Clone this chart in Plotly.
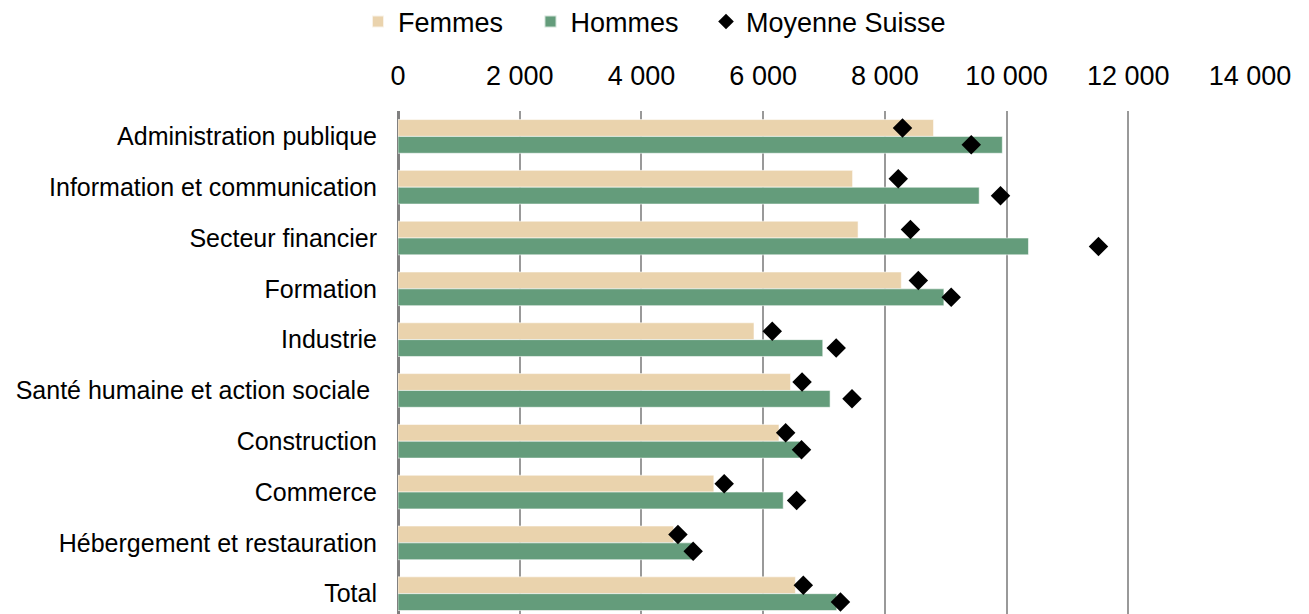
import plotly.graph_objects as go

categories = [
    "Administration publique",
    "Information et communication",
    "Secteur financier",
    "Formation",
    "Industrie",
    "Santé humaine et action sociale\u00a0",
    "Construction",
    "Commerce",
    "Hébergement et restauration",
    "Total",
]
femmes = [8800, 7470, 7560, 8270, 5850, 6450, 6260, 5190, 4530, 6530]
hommes = [9930, 9550, 10360, 8970, 6980, 7100, 6600, 6330, 4830, 7210]
moyenne_femmes = [8290, 8220, 8420, 8550, 6150, 6640, 6370, 5360, 4600, 6660]
moyenne_hommes = [9420, 9900, 11510, 9090, 7200, 7460, 6630, 6550, 4850, 7270]
x_ticks = [0, 2000, 4000, 6000, 8000, 10000, 12000, 14000]

FONT = "Liberation Sans, Arial, sans-serif"
C_F = "#EAD3AD"
C_H = "#649C7B"
PAD = "\u00a0" * 3  # extra spacing between legend entries

BARGAP = 0.337
half = (1 - BARGAP) / 4  # centre offset of each bar in a group of two

idx = list(range(len(categories)))
y_f = [i - half for i in idx]
y_h = [i + half for i in idx]

fig = go.Figure()
fig.add_trace(go.Bar(
    name="Femmes" + PAD, y=idx, x=femmes, orientation="h",
    marker=dict(color=C_F, line=dict(color="rgba(255,255,255,0.7)", width=0.8)),
))
fig.add_trace(go.Bar(
    name="Hommes" + PAD, y=idx, x=hommes, orientation="h",
    marker=dict(color=C_H, line=dict(color="rgba(255,255,255,0.7)", width=0.8)),
))
fig.add_trace(go.Scatter(
    name="Moyenne Suisse",
    x=moyenne_femmes + moyenne_hommes, y=y_f + y_h,
    mode="markers",
    marker=dict(symbol="diamond", size=15, color="black"),
))

# page has an 8 px body margin, so the figure is 8 px smaller than the window
W, H = 1301, 606

fig.update_layout(
    width=W, height=H,
    margin=dict(l=390, r=59, t=103, b=0, autoexpand=False),
    paper_bgcolor="white", plot_bgcolor="white",
    barmode="group", bargap=BARGAP, bargroupgap=0,
    separators=", ",
    font=dict(family=FONT, size=25, color="black"),
    showlegend=True,
    legend=dict(
        orientation="h", xref="container", yref="container",
        x=0.269, xanchor="left", y=0.977, yanchor="middle",
        font=dict(size=27), traceorder="normal",
        itemsizing="constant", bgcolor="rgba(0,0,0,0)",
    ),
    xaxis=dict(
        side="top", range=[0, 14000], tickvals=x_ticks, tickformat=",",
        showgrid=True, gridcolor="#999999", gridwidth=2,
        zeroline=True, zerolinecolor="#808080", zerolinewidth=2.5,
        showline=False, ticks="", ticklabelstandoff=20,
        tickfont=dict(size=27), automargin=False,
    ),
    yaxis=dict(
        range=[9.4, -0.5], tickvals=idx, ticktext=categories,
        showgrid=False, zeroline=False, showline=False, ticks="",
        ticklabelstandoff=20, tickfont=dict(size=25), automargin=False,
    ),
)

fig.write_html("out.html")
